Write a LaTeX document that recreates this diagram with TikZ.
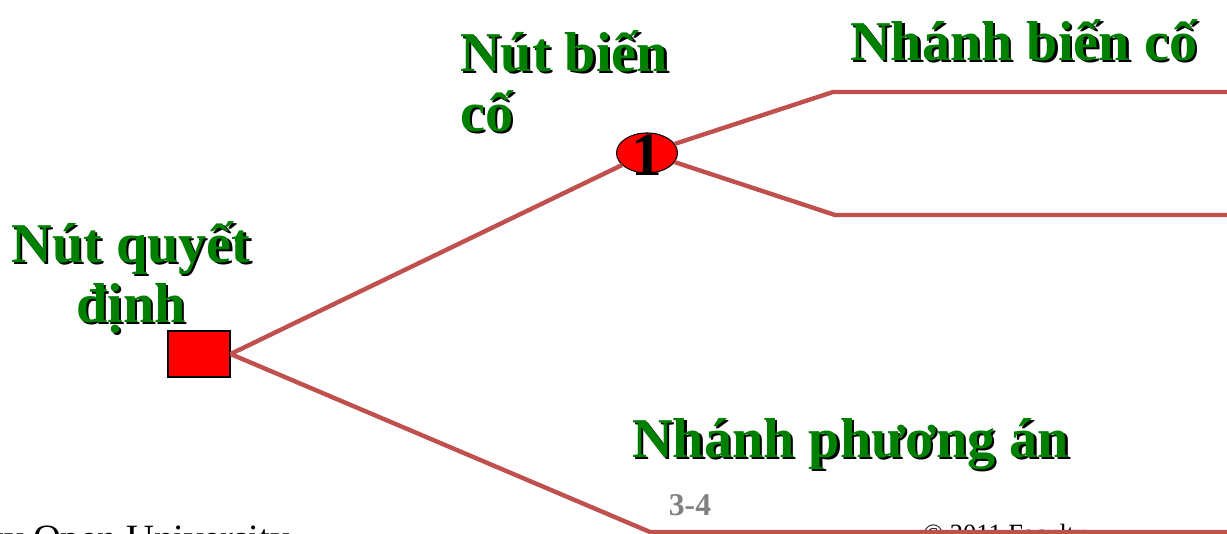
\documentclass[tikz,border=0pt]{standalone}
\usepackage{fontspec}
\setmainfont{Liberation Serif}
\usetikzlibrary{shapes.geometric}
\definecolor{branchred}{RGB}{192,80,77}
\definecolor{labelgreen}{RGB}{0,128,0}
\newcommand{\shadowed}[1]{\makebox[0pt][l]{\hspace{1.3pt}\raisebox{-1.3pt}{\color{black}#1}}#1}
\begin{document}
\begin{tikzpicture}[x=0.02cm, y=-0.02cm,
        lbl/.style={text=labelgreen, font=\fontsize{32}{34}\selectfont\bfseries,
                    inner sep=0pt, align=left},
        branch/.style={draw=branchred, line width=2.5pt},
        decision/.style={draw, fill=red, line width=0.6pt, minimum width=35.3pt,
                         minimum height=26.2pt, inner sep=0pt},
        chance/.style={ellipse, draw, fill=red, line width=0.6pt, minimum width=34.7pt,
                       minimum height=22.8pt, inner sep=0pt,
                       font=\fontsize{35}{35}\selectfont\bfseries},
        foot/.style={inner sep=0pt, font=\fontsize{22}{22}\selectfont}
    ]
        \useasboundingbox (0,0) rectangle (1227,534);
        \clip (0,0) rectangle (1227,534);

        % footer
        \node[foot, anchor=base east] (univ) at (290,551) {Ho Chi Minh City Open University};
        \node[foot, anchor=base west, font=\fontsize{15}{15}\selectfont] (copy) at (923,542) {© 2011 Faculty};
        \node[inner sep=0pt, anchor=base, text=gray, font=\fontsize{18}{18}\selectfont\bfseries] (page) at (690,515) {3-4};

        % nodes
        \node[decision] (dec) at (199,354) {};
        \node[chance] (chn) at (647,153) {\smash{\raisebox{-13pt}{1}}};

        % labels
        \node[lbl, anchor=base west] (chnlbl) at (460,131) {\shadowed{Nút biến}\\\shadowed{cố}};
        \node[lbl, align=center, anchor=base] (declbl) at (131,322) {\shadowed{Nút quyết}\\\shadowed{định}};
        \node[lbl, anchor=base west] (evtlbl) at (850,60) {\shadowed{Nhánh biến cố}};
        \node[lbl, anchor=base west] (altlbl) at (632,457) {\shadowed{Nhánh phương án}};

        % branches
        \coordinate (up1) at (833,92);
        \coordinate (up2) at (1240,92);
        \coordinate (dn1) at (835,215);
        \coordinate (dn2) at (1240,215);
        \coordinate (lo1) at (650,532);
        \coordinate (lo2) at (1240,532);
        \draw[branch] (dec.east) -- (chn);
        \draw[branch] (chn) -- (up1) -- (up2);
        \draw[branch] (chn) -- (dn1) -- (dn2);
        \draw[branch] (dec.east) -- (lo1) -- (lo2);
    \end{tikzpicture}
\end{document}
